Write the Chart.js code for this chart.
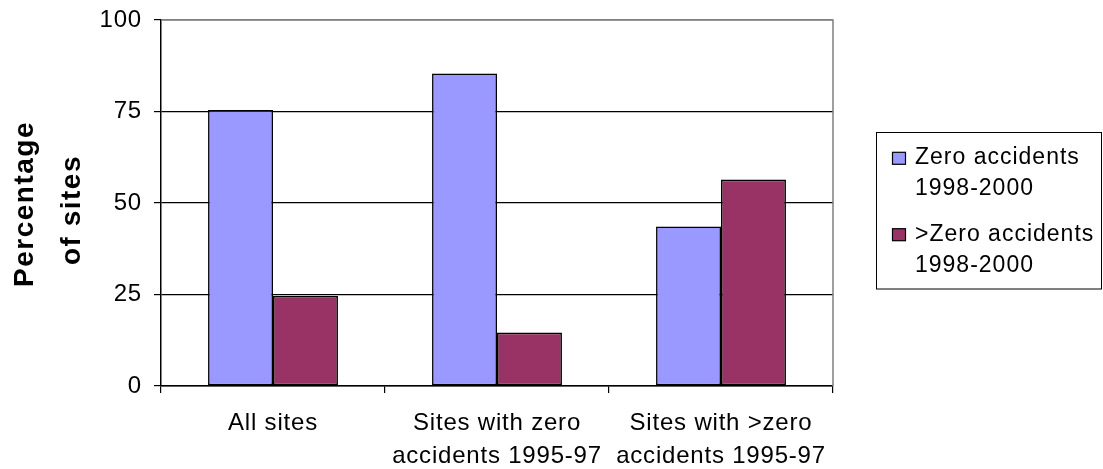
<!DOCTYPE html>
<html>
<head>
<meta charset="utf-8">
<script src="https://cdn.jsdelivr.net/npm/chart.js@4"></script>
<style>
  html, body { margin: 0; padding: 0; background: #fff; }
  #wrap { width: 1103px; height: 469px; position: relative; }
</style>
</head>
<body>
<div id="wrap"><canvas id="c" width="1103" height="469"></canvas></div>
<script>
// Site groups along the x axis (each entry is one label, split over lines)
const categories = [
  ['All sites'],
  ['Sites with zero', 'accidents 1995-97'],
  ['Sites with >zero', 'accidents 1995-97']
];
// Share of sites (%) by accident record 1998-2000
const zeroAccidents = [75.4, 85.4, 43.6];
const someAccidents = [24.6, 14.6, 56.4];
const seriesNames = [['Zero accidents', '1998-2000'], ['>Zero accidents', '1998-2000']];
const yTickValues = [0, 25, 50, 75, 100];
const yTitleLines = ['Percentage', 'of sites'];

const FONT = "'Liberation Sans', Arial, sans-serif";
const BLUE = '#9999FF';
const PLUM = '#993366';

// Wider glyph spacing for all canvas text
const spacingPlugin = {
  id: 'spacing',
  beforeDraw(chart) { chart.ctx.letterSpacing = '0.8px'; }
};

// Grey frame on the top and right of the plot area
const framePlugin = {
  id: 'frame',
  afterDatasetsDraw(chart) {
    const { ctx, chartArea: a } = chart;
    ctx.save();
    ctx.strokeStyle = '#808080';
    ctx.lineWidth = 1.5;
    ctx.beginPath();
    ctx.moveTo(a.left, a.top);
    ctx.lineTo(a.right, a.top);
    ctx.lineTo(a.right, a.bottom);
    ctx.stroke();
    ctx.restore();
  }
};

// Two-line bold axis title rotated along the y axis
const yTitlePlugin = {
  id: 'yTitle',
  afterDraw(chart) {
    const ctx = chart.ctx;
    const spots = [[33, 204], [80, 210]];
    ctx.save();
    ctx.fillStyle = '#000';
    ctx.font = "bold 28px " + FONT;
    ctx.letterSpacing = '1.5px';
    ctx.textAlign = 'center';
    ctx.textBaseline = 'alphabetic';
    yTitleLines.forEach((line, i) => {
      ctx.save();
      ctx.translate(spots[i][0], spots[i][1]);
      ctx.rotate(-Math.PI / 2);
      ctx.fillText(line, 0, 0);
      ctx.restore();
    });
    ctx.restore();
  }
};

// Boxed legend to the right of the plot
const legendPlugin = {
  id: 'boxLegend',
  afterDraw(chart) {
    const ctx = chart.ctx;
    ctx.save();
    ctx.strokeStyle = '#000';
    ctx.lineWidth = 1;
    ctx.strokeRect(876.5, 132.5, 225, 156.5);
    ctx.font = "23px " + FONT;
    ctx.letterSpacing = '1px';
    ctx.fillStyle = '#000';
    ctx.textAlign = 'left';
    ctx.textBaseline = 'alphabetic';
    const rows = [164.3, 240.7];
    chart.data.datasets.forEach((ds, i) => {
      const base = rows[i];
      ctx.fillStyle = ds.backgroundColor;
      ctx.fillRect(892.5, base - 12, 13, 12);
      ctx.strokeStyle = '#000';
      ctx.lineWidth = 1.2;
      ctx.strokeRect(892.5, base - 12, 13, 12);
      ctx.fillStyle = '#000';
      seriesNames[i].forEach((txt, j) => {
        ctx.fillText(txt, 915, base + j * 31);
      });
    });
    ctx.restore();
  }
};

new Chart(document.getElementById('c'), {
  type: 'bar',
  data: {
    labels: categories,
    datasets: [
      {
        label: seriesNames[0].join(' '),
        data: zeroAccidents,
        backgroundColor: BLUE,
        borderColor: '#000',
        borderWidth: 1.6,
        borderSkipped: false,
        categoryPercentage: 0.58,
        barPercentage: 1
      },
      {
        label: seriesNames[1].join(' '),
        data: someAccidents,
        backgroundColor: PLUM,
        borderColor: '#000',
        borderWidth: 1.6,
        borderSkipped: false,
        categoryPercentage: 0.58,
        barPercentage: 1
      }
    ]
  },
  options: {
    responsive: false,
    animation: false,
    devicePixelRatio: 1,
    layout: { padding: { top: 20, right: 270, left: 0, bottom: 0 } },
    plugins: {
      legend: { display: false },
      tooltip: { enabled: false },
      title: { display: false }
    },
    scales: {
      x: {
        offset: true,
        grid: {
          display: true,
          offset: true,
          drawOnChartArea: false,
          drawTicks: true,
          tickLength: 7,
          color: '#000',
          lineWidth: 1.2
        },
        border: { display: true, color: '#000', width: 1.5 },
        ticks: {
          color: '#000',
          font: { family: FONT, size: 24, lineHeight: 1.375 },
          padding: 14,
          maxRotation: 0,
          autoSkip: false
        },
        afterFit(scale) {
          scale.height = 83;
          scale.paddingLeft = 0;
          scale.paddingRight = 0;
        }
      },
      y: {
        min: 0,
        max: 100,
        afterBuildTicks(scale) {
          scale.ticks = yTickValues.map(v => ({ value: v }));
        },
        grid: {
          color: ctx => (ctx.tick && ctx.tick.value === 100 ? '#808080' : '#000'),
          tickColor: '#000',
          lineWidth: 1.2,
          drawTicks: true,
          tickLength: 7
        },
        border: { display: true, color: '#000', width: 1.5 },
        ticks: {
          color: '#000',
          font: { family: FONT, size: 24 },
          padding: 12
        },
        afterFit(scale) {
          scale.width = 161;
          scale.paddingTop = 0;
          scale.paddingBottom = 0;
        }
      }
    }
  },
  plugins: [spacingPlugin, framePlugin, yTitlePlugin, legendPlugin]
});
</script>
</body>
</html>
